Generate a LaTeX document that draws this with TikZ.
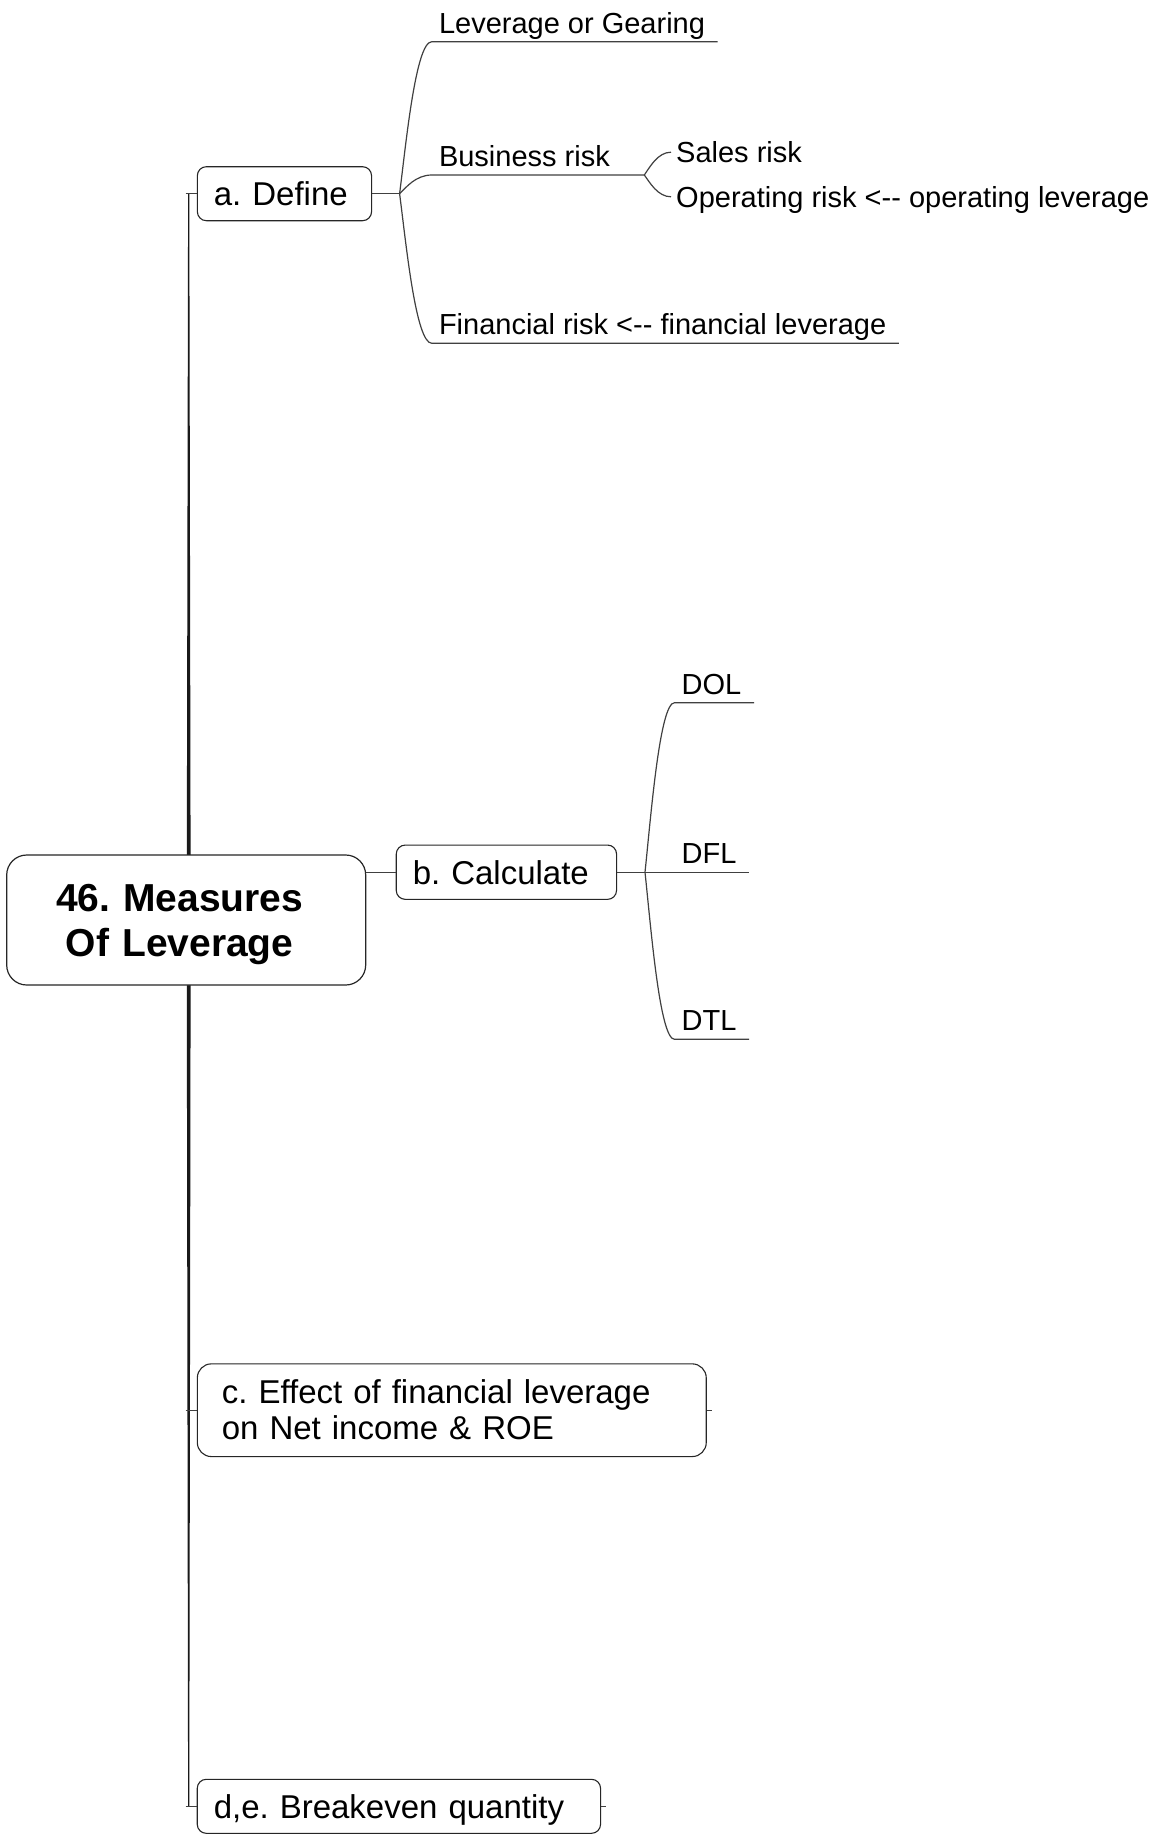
\documentclass[tikz,border=0pt]{standalone}
\usepackage{fontspec}
\setmainfont{Liberation Sans}[Ligatures=TeXOff]
\usetikzlibrary{calc,backgrounds}

\tikzset{
  link/.style={draw=black!75, line width=1.2pt},
  rootbox/.style={draw=black!85, line width=1.2pt, fill=white, rounded corners=20pt,
    minimum width=359pt, minimum height=130pt, inner sep=0pt, align=center,
    text width=359pt, font=\fontsize{39}{44.3}\selectfont\bfseries},
  topicbox/.style={draw=black!85, line width=1.1pt, fill=white, rounded corners=9pt,
    inner xsep=16.5pt, inner ysep=0pt, align=left, anchor=west, text depth=0pt,
    font=\fontsize{33}{36.6}\selectfont},
  leaf/.style={font=\fontsize{29}{31}\selectfont, inner xsep=7pt, inner ysep=8.3pt,
    text depth=0pt, anchor=south west},
  subleaf/.style={font=\fontsize{29}{31}\selectfont, inner xsep=5pt, inner ysep=0pt,
    text depth=0pt, anchor=base west},
  branch/.style={to path={
    let \p1=(\tikztostart), \p2=(\tikztotarget) in
    .. controls ({\x1+0.2*(\x2-\x1)}, {\y1+0.33*(\y2-\y1)})
       and ({0.5*(\x1+\x2)}, {\y2}) .. (\tikztotarget) \tikztonodes}},
}

\begin{document}
\frenchspacing
\begin{tikzpicture}[x=1pt, y=-1pt]
\useasboundingbox (0,0) rectangle (1152,1839);

% central topic (the invisible rules keep the text slightly left of centre)
\node[rootbox, text height=28pt, text depth=44.6pt] (root) at (186.2,920)
  {46. Measures\rule{13pt}{0pt}\\Of Leverage\rule{13pt}{0pt}};

% main topics
\node[topicbox, text width=141.2pt, minimum height=54pt] (define) at (196.8,193.7) {a. Define};
\node[topicbox, text width=187.3pt, minimum height=54.3pt] (calc) at (395.7,872.2) {b. Calculate};
\node[topicbox, anchor=north west, inner xsep=24.5pt, text width=459.9pt,
      minimum height=92.7pt, rounded corners=14pt, text height=24pt, text depth=38pt]
      (effect) at (196.8,1363.3) {c. Effect of financial leverage\\on Net income \& ROE};
\node[topicbox, text width=370.3pt, minimum height=54pt] (breakeven) at (196.7,1806.3) {d,e. Breakeven quantity};

% subtopics of a. Define
\coordinate (dfork) at (399.6,193.7);
\node[leaf] (gearing) at (431.8,41.7) {Leverage or Gearing};
\node[leaf] (business) at (431.8,175) {Business risk};
\node[leaf] (financial) at (431.8,343.3) {Financial risk <-- financial leverage};
\coordinate (bfork) at (644.3,175);
\node[subleaf] (sales) at (671,162.7) {Sales risk};
\node[subleaf] (oprisk) at (671,207.3) {Operating risk <-- operating leverage};

% subtopics of b. Calculate
\coordinate (cfork) at (645,872.2);
\node[leaf] (dol) at (674.5,702.7) {DOL};
\node[leaf] (dfl) at (674.5,872.2) {DFL};
\node[leaf] (dtl) at (674.5,1039.3) {DTL};

% tapering trunk behind the central topic
\coordinate (tx) at (188.7,920);
\coordinate (ta) at (tx |- define.west);
\coordinate (td) at (tx |- breakeven.west);
\coordinate (tc) at (tx |- effect.west);
\begin{pgfonlayer}{background}
  \fill[white] (0,0) rectangle (1152,1839);
  \fill[black!90] ([xshift=-0.6pt]ta) -- ([xshift=0.6pt]ta) -- ([xshift=2pt]tx)
    -- ([xshift=0.6pt]td) -- ([xshift=-0.6pt]td) -- ([xshift=-2pt]tx) -- cycle;
\end{pgfonlayer}

% ticks from the trunk into the main topics
\draw[link] ([xshift=-3pt]ta) -- (define.west);
\draw[link] ([xshift=-3pt]tc) -- (effect.west);
\draw[link] ([xshift=-3pt]td) -- (breakeven.west);
\draw[link] (effect.east) -- ++(5,0);
\draw[link] (breakeven.east) -- ++(5,0);
\draw[link] (root.east |- calc.west) -- (calc.west);

% a. Define branches
\draw[link] (define.east) -- (dfork);
\draw[link] (dfork) to[branch] (gearing.south west) -- ([xshift=5.5pt]gearing.south east);
\draw[link] (dfork) to[branch] (business.south west) -- (bfork);
\draw[link] (dfork) to[branch] (financial.south west) -- ([xshift=5.5pt]financial.south east);
\draw[link] (bfork) to[branch] (sales.west);
\draw[link] (bfork) to[branch] (oprisk.west);

% b. Calculate branches
\draw[link] (calc.east) -- (cfork) -- (dfl.south west) -- ([xshift=5.5pt]dfl.south east);
\draw[link] (cfork) to[branch] (dol.south west) -- ([xshift=5.5pt]dol.south east);
\draw[link] (cfork) to[branch] (dtl.south west) -- ([xshift=5.5pt]dtl.south east);
\end{tikzpicture}
\end{document}
